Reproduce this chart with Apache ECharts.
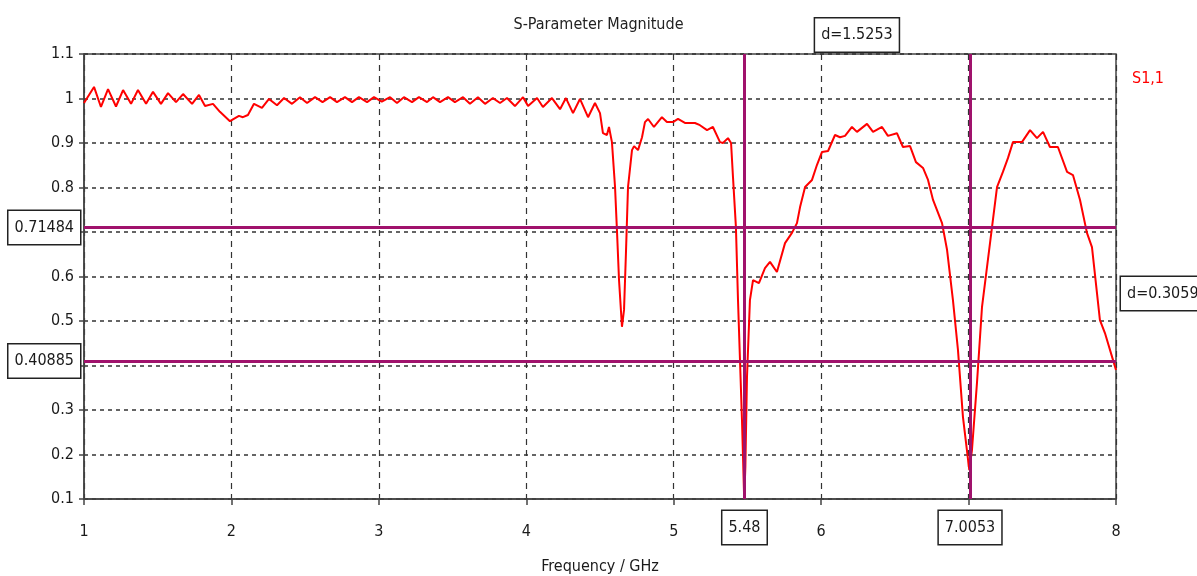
<!DOCTYPE html>
<html>
<head>
<meta charset="utf-8">
<script src="https://cdn.jsdelivr.net/npm/echarts@6/dist/echarts.min.js"></script>
<style>
  html, body { margin: 0; padding: 0; background: #fff; }
  #chart { width: 1197px; height: 576px; }
</style>
</head>
<body>
<div id="chart"></div>
<script>
// S1,1 magnitude (GHz, linear)
const freq = [
  1.000, 1.068, 1.115, 1.163, 1.217, 1.265, 1.319, 1.366, 1.421, 1.468,
  1.522, 1.570, 1.624, 1.672, 1.733, 1.780, 1.821, 1.875, 1.922, 1.990,
  2.051, 2.078, 2.112, 2.153, 2.207, 2.255, 2.309, 2.357, 2.411, 2.465,
  2.513, 2.567, 2.618, 2.669, 2.716, 2.770, 2.818, 2.865, 2.920, 2.967,
  3.020, 3.076, 3.123, 3.170, 3.225, 3.272, 3.327, 3.367, 3.415, 3.469,
  3.516, 3.571, 3.618, 3.672, 3.720, 3.774, 3.822, 3.869, 3.923, 3.978,
  4.012, 4.073, 4.113, 4.174, 4.229, 4.269, 4.317, 4.364, 4.419, 4.466,
  4.500, 4.520, 4.547, 4.561, 4.581, 4.602, 4.615, 4.629, 4.649, 4.663,
  4.676, 4.690, 4.717, 4.731, 4.758, 4.785, 4.805, 4.826, 4.866, 4.920,
  4.954, 4.995, 5.029, 5.076, 5.144, 5.178, 5.226, 5.266, 5.314, 5.334,
  5.368, 5.389, 5.402, 5.422, 5.436, 5.463, 5.478, 5.486, 5.497, 5.517,
  5.538, 5.578, 5.619, 5.653, 5.700, 5.755, 5.802, 5.836, 5.857, 5.891,
  5.938, 5.972, 6.006, 6.047, 6.094, 6.128, 6.162, 6.209, 6.243, 6.311,
  6.352, 6.413, 6.453, 6.514, 6.555, 6.603, 6.643, 6.691, 6.725, 6.759,
  6.820, 6.854, 6.894, 6.928, 6.962, 7.005, 7.023, 7.057, 7.091, 7.125,
  7.159, 7.193, 7.233, 7.267, 7.301, 7.362, 7.417, 7.464, 7.505, 7.552,
  7.606, 7.668, 7.708, 7.756, 7.803, 7.837, 7.891, 7.925, 7.980, 8.000
]
const s11 = [
  0.990, 1.026, 0.981, 1.021, 0.982, 1.019, 0.988, 1.019, 0.988, 1.015,
  0.988, 1.012, 0.992, 1.010, 0.988, 1.008, 0.983, 0.988, 0.970, 0.949,
  0.961, 0.958, 0.963, 0.988, 0.979, 0.999, 0.985, 1.001, 0.988, 1.003,
  0.990, 1.003, 0.992, 1.003, 0.992, 1.003, 0.992, 1.003, 0.992, 1.003,
  0.993, 1.003, 0.990, 1.003, 0.992, 1.003, 0.992, 1.003, 0.992, 1.003,
  0.992, 1.003, 0.988, 1.003, 0.988, 1.001, 0.990, 1.001, 0.983, 1.003,
  0.983, 1.001, 0.981, 1.001, 0.976, 1.001, 0.967, 0.999, 0.958, 0.990,
  0.967, 0.922, 0.918, 0.936, 0.902, 0.801, 0.704, 0.592, 0.487, 0.525,
  0.653, 0.801, 0.884, 0.893, 0.884, 0.913, 0.947, 0.954, 0.936, 0.958,
  0.947, 0.947, 0.954, 0.945, 0.945, 0.940, 0.929, 0.936, 0.902, 0.900,
  0.911, 0.900, 0.824, 0.711, 0.547, 0.278, 0.100, 0.172, 0.374, 0.547,
  0.592, 0.585, 0.619, 0.633, 0.610, 0.675, 0.698, 0.720, 0.756, 0.801,
  0.817, 0.851, 0.880, 0.882, 0.918, 0.913, 0.916, 0.936, 0.925, 0.943,
  0.925, 0.936, 0.916, 0.922, 0.891, 0.893, 0.857, 0.844, 0.817, 0.772,
  0.720, 0.660, 0.547, 0.435, 0.284, 0.165, 0.210, 0.361, 0.531, 0.621,
  0.711, 0.801, 0.835, 0.866, 0.902, 0.902, 0.929, 0.911, 0.925, 0.891,
  0.891, 0.835, 0.828, 0.772, 0.698, 0.666, 0.502, 0.473, 0.412, 0.390
]

// marker positions
const markerX = [5.48, 7.0053]
const markerY = [0.71484, 0.40885]

const font = 'DejaVu Sans Condensed, DejaVu Sans, sans-serif'
const markColor = '#a0126c'

const boxLabel = {
  show: true,
  color: '#1a1a1a',
  fontFamily: font,
  fontSize: 16,
  backgroundColor: '#fff',
  borderColor: '#222',
  borderWidth: 1.5,
  padding: [9, 6, 8, 6]
}

// delta readouts are truncated to 4 decimals, like the original tool
const trunc4 = v => Math.floor(v * 1e4 + 1e-6) / 1e4

const chart = echarts.init(document.getElementById('chart'))
const lineData = freq.map((f, i) => [f, s11[i]])
const dx = trunc4(markerX[1] - markerX[0])
const dy = trunc4(markerY[0] - markerY[1])

const option = {
  animation: false,
  title: {
    text: 'S-Parameter Magnitude',
    left: 'center',
    top: 12,
    textStyle: { color: '#222', fontFamily: font, fontSize: 16, fontWeight: 'normal' }
  },
  legend: {
    left: 1122,
    top: 66,
    icon: 'rect',
    itemWidth: 0,
    itemHeight: 0,
    textStyle: { color: '#ff0000', fontFamily: font, fontSize: 16 }
  },
  grid: {
    left: 84, right: 81, top: 54, bottom: 77,
    outerBoundsMode: 'none',
    containLabel: false,
    show: true, borderColor: '#444', borderWidth: 1.5
  },
  xAxis: {
    type: 'value',
    min: 1, max: 8, interval: 1,
    name: 'Frequency / GHz',
    nameLocation: 'middle',
    nameGap: 60,
    nameTextStyle: { color: '#1a1a1a', fontFamily: font, fontSize: 16 },
    axisLine: { lineStyle: { color: '#444', width: 1.5 } },
    axisTick: { show: true, length: 6, lineStyle: { color: '#444', width: 1.5 } },
    axisLabel: { color: '#1a1a1a', fontFamily: font, fontSize: 16, margin: 25 },
    splitLine: { show: true, lineStyle: { color: '#333', type: [6, 5], width: 1.2 } }
  },
  yAxis: {
    type: 'value',
    min: 0.1, max: 1.1, interval: 0.1,
    axisLine: { show: true, lineStyle: { color: '#444', width: 1.5 } },
    axisTick: { show: true, length: 5, lineStyle: { color: '#444', width: 1.5 } },
    axisLabel: {
      color: '#1a1a1a', fontFamily: font, fontSize: 16, margin: 10,
      formatter: v => String(+v.toFixed(1))
    },
    splitLine: { show: true, lineStyle: { color: '#333', type: [4, 4], width: 1.5 } }
  },
  series: [{
    name: 'S1,1',
    type: 'line',
    data: lineData,
    showSymbol: false,
    color: '#ff0000',
    lineStyle: { color: '#ff0000', width: 2 },
    z: 3,
    markLine: {
      silent: true,
      symbol: 'none',
      animation: false,
      lineStyle: { color: markColor, width: 3, type: 'solid' },
      data: [
        { xAxis: markerX[0], label: Object.assign({}, boxLabel, { position: 'start', distance: 12, formatter: String(markerX[0]) }) },
        { xAxis: markerX[1], label: Object.assign({}, boxLabel, { position: 'start', distance: 12, formatter: String(markerX[1]) }) },
        { yAxis: markerY[0], label: Object.assign({}, boxLabel, { position: 'start', distance: 4, formatter: String(markerY[0]) }) },
        { yAxis: markerY[1], label: Object.assign({}, boxLabel, { position: 'start', distance: 4, formatter: String(markerY[1]) }) }
      ]
    },
    markPoint: {
      silent: true,
      symbol: 'circle',
      symbolSize: 0,
      animation: false,
      data: [
        {
          coord: [(markerX[0] + markerX[1]) / 2, 1.1],
          label: Object.assign({}, boxLabel, { position: 'inside', offset: [0, -19], formatter: 'd=' + dx })
        },
        {
          coord: [8, (markerY[0] + markerY[1]) / 2],
          label: Object.assign({}, boxLabel, { position: 'right', distance: 5, formatter: 'd=' + dy })
        }
      ]
    }
  }]
}

chart.setOption(option)
</script>
</body>
</html>
